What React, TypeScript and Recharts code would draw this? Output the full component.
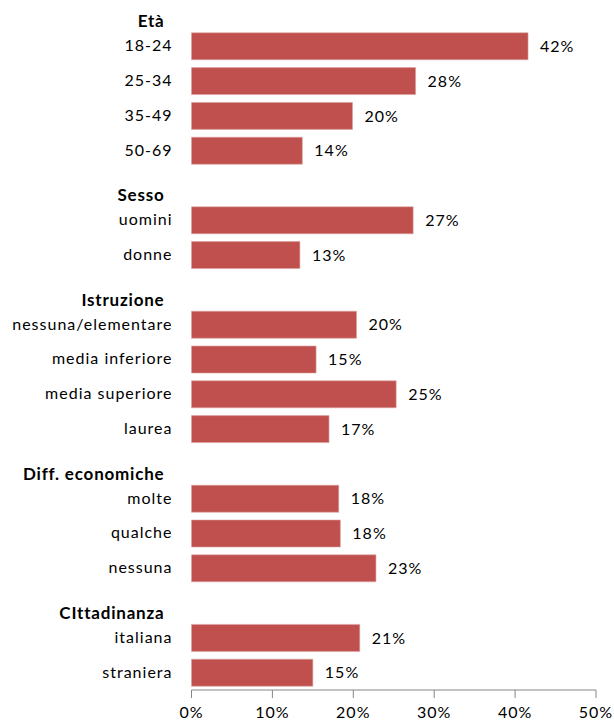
import React from 'react';
import { BarChart, Bar, XAxis, YAxis, LabelList } from 'recharts';

const categories = [
  'Età', '18-24', '25-34', '35-49', '50-69',
  'Sesso', 'uomini', 'donne',
  'Istruzione', 'nessuna/elementare', 'media inferiore', 'media superiore', 'laurea',
  'Diff. economiche', 'molte', 'qualche', 'nessuna',
  'CIttadinanza', 'italiana', 'straniera',
];
const values = [
  null, 41.6, 27.7, 19.9, 13.7,
  null, 27.4, 13.4,
  null, 20.4, 15.4, 25.3, 17.0,
  null, 18.2, 18.4, 22.8,
  null, 20.8, 15.0,
];
const headers = ['Età', 'Sesso', 'Istruzione', 'Diff. economiche', 'CIttadinanza'];
const xTicks = [0, 10, 20, 30, 40, 50];

const data = categories.map((name, i) => ({ name, value: values[i] }));

const FONT = 'Lato, "Open Sans", sans-serif';
const BAR = '#C0504D';

const CategoryTick = (props: any) => {
  const { x, y, payload } = props;
  const isHeader = headers.includes(payload.value);
  return (
    <text
      x={isHeader ? x - 8 : x}
      y={isHeader ? y + 11 : y}
      dy={5}
      textAnchor="end"
      fontFamily={FONT}
      fontSize={isHeader ? 17 : 16}
      fontWeight={isHeader ? 700 : 400}
      letterSpacing={isHeader ? 0.8 : 1}
      fill="#000"
    >
      {payload.value}
    </text>
  );
};

const ValueTick = (props: any) => {
  const { x, y, payload } = props;
  return (
    <text x={x} y={y} dy={18} textAnchor="middle" fontFamily={FONT} fontSize={16} letterSpacing={1} fill="#000">
      {`${payload.value}%`}
    </text>
  );
};

export default function App() {
  return (
    <div style={{ position: 'fixed', left: 0, top: 0, width: 614, height: 722, overflow: 'hidden', background: '#fff' }}>
      <div style={{ marginTop: -20 }}>
        <BarChart
          width={614}
          height={742}
          data={data}
          layout="vertical"
          margin={{ top: 14, right: 18, bottom: 1, left: 0 }}
        >
          <XAxis
            type="number"
            domain={[0, 50]}
            ticks={xTicks}
            axisLine={{ stroke: '#868686' }}
            tickLine={{ stroke: '#868686' }}
            tickSize={8}
            height={31}
            tick={<ValueTick />}
            interval={0}
          />
          <YAxis
            type="category"
            dataKey="name"
            width={191.5}
            axisLine={false}
            tickLine={false}
            tick={<CategoryTick />}
            tickMargin={13}
            interval={0}
          />
          <Bar dataKey="value" fill={BAR} barSize={27} stroke="#D9A3A1" strokeWidth={0.6} isAnimationActive={false}>
            <LabelList
              dataKey="value"
              position="right"
              offset={12}
              formatter={(v: any) => (v == null ? '' : `${Math.round(v)}%`)}
              style={{ fontFamily: FONT, fontSize: 16, fill: '#000', letterSpacing: 1 }}
            />
          </Bar>
        </BarChart>
      </div>
    </div>
  );
}
